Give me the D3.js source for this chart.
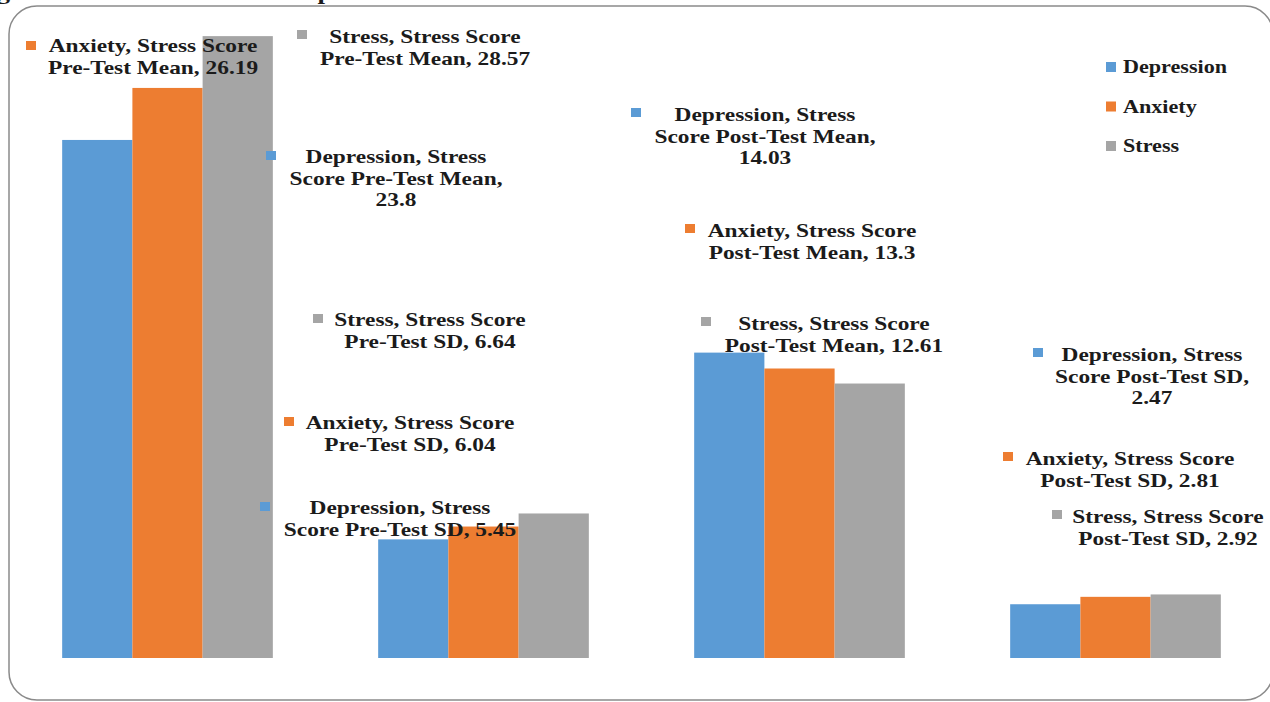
<!DOCTYPE html>
<html>
<head>
<meta charset="utf-8">
<script src="https://cdn.jsdelivr.net/npm/d3@7"></script>
<style>
  html, body { margin: 0; padding: 0; background: #ffffff; }
  svg { display: block; }
  text { font-family: "Liberation Serif", "Times New Roman", serif; font-weight: bold; fill: #1b1b1b; }
</style>
</head>
<body>
<svg id="chart" width="1270" height="702"></svg>
<script>
// Stress score statistics by measure (categories) and scale (series)
const categories = [
  "Stress Score Pre-Test Mean",
  "Stress Score Pre-Test SD",
  "Stress Score Post-Test Mean",
  "Stress Score Post-Test SD"
];
const seriesNames = ["Depression", "Anxiety", "Stress"];
const depression = [23.8, 5.45, 14.03, 2.47];
const anxiety    = [26.19, 6.04, 13.3, 2.81];
const stress     = [28.57, 6.64, 12.61, 2.92];
const yDomain = [0, 30];
const titleText = "Figure 2: Distribution of Comparison of Mean Stress Score.";

const colors = { Depression: "#5B9BD5", Anxiety: "#ED7D31", Stress: "#A5A5A5" };
const seriesValues = { Depression: depression, Anxiety: anxiety, Stress: stress };

// Hand-placed data label boxes: text centre x, first baseline y, marker corner,
// and how many words go on each line
const labelLayout = {
  "Anxiety|0":    { cx: 153, y: 52,  mx: 26,   my: 41,  words: [3, 4] },
  "Stress|0":     { cx: 425, y: 43,  mx: 297,  my: 30,  words: [3, 4] },
  "Depression|0": { cx: 396, y: 163, mx: 266,  my: 151, words: [2, 3, 1] },
  "Stress|1":     { cx: 430, y: 326, mx: 313,  my: 314, words: [3, 3] },
  "Anxiety|1":    { cx: 410, y: 429, mx: 284,  my: 417, words: [3, 3] },
  "Depression|1": { cx: 400, y: 514, mx: 260,  my: 502, words: [2, 4] },
  "Depression|2": { cx: 765, y: 121, mx: 631,  my: 108, words: [2, 3, 1] },
  "Anxiety|2":    { cx: 812, y: 237, mx: 685,  my: 224, words: [3, 3] },
  "Stress|2":     { cx: 834, y: 330, mx: 701,  my: 317, words: [3, 3] },
  "Depression|3": { cx: 1152, y: 361, mx: 1033, my: 348, words: [2, 3, 1] },
  "Anxiety|3":    { cx: 1130, y: 465, mx: 1003, my: 452, words: [3, 3] },
  "Stress|3":     { cx: 1168, y: 523, mx: 1052, my: 510, words: [3, 3] }
};

const svg = d3.select("#chart");
const stretch = 1.23;   // wide serif rendering of the chart text
const fontSize = 19;
const lineH = 21.5;

// title, mostly above the visible area
svg.append("text")
  .attr("transform", `translate(660,-1) scale(${stretch},1)`)
  .attr("text-anchor", "end")
  .style("font-size", "22px")
  .text(titleText);

// chart area frame
svg.append("rect")
  .attr("x", 9).attr("y", 6)
  .attr("width", 1264).attr("height", 694)
  .attr("rx", 28).attr("ry", 28)
  .attr("fill", "#ffffff")
  .attr("stroke", "#8a8a8a")
  .attr("stroke-width", 1.5);

// scales
const y = d3.scaleLinear().domain(yDomain).range([658, 5]);
const x0 = d3.scaleBand().domain(categories).range([9.5, 1273.5]).padding(0);
const step = x0.bandwidth();
const barW = step / 4.5;            // gap width 150% of a bar
const x1 = d3.scaleBand().domain(seriesNames)
  .range([barW * 0.75, step - barW * 0.75]).padding(0);

const rows = [];
categories.forEach((c, i) => {
  seriesNames.forEach(s => rows.push({ cat: c, ci: i, series: s, value: seriesValues[s][i] }));
});

// bars
svg.append("g").selectAll("rect")
  .data(rows)
  .join("rect")
  .attr("x", d => x0(d.cat) + x1(d.series))
  .attr("y", d => y(d.value))
  .attr("width", x1.bandwidth())
  .attr("height", d => y(0) - y(d.value))
  .attr("fill", d => colors[d.series]);

// split "Series, Category, value" into lines with the given word counts
function labelLines(d, counts) {
  const words = `${d.series}, ${d.cat}, ${d.value}`.split(" ");
  const lines = [];
  let k = 0;
  counts.forEach(n => { lines.push(words.slice(k, k + n).join(" ")); k += n; });
  if (k < words.length) lines[lines.length - 1] += " " + words.slice(k).join(" ");
  return lines;
}

const labels = svg.append("g");
rows.forEach(d => {
  const L = labelLayout[`${d.series}|${d.ci}`];
  const g = labels.append("g");
  g.append("rect")
    .attr("x", L.mx).attr("y", L.my)
    .attr("width", 10).attr("height", 9)
    .attr("fill", colors[d.series]);
  labelLines(d, L.words).forEach((ln, k) => {
    g.append("text")
      .attr("transform", `translate(${L.cx},${L.y + k * lineH}) scale(${stretch},1)`)
      .attr("text-anchor", "middle")
      .style("font-size", fontSize + "px")
      .text(ln);
  });
});

// legend
const legend = svg.append("g");
seriesNames.forEach((s, i) => {
  const ly = 62 + i * 39.5;
  legend.append("rect")
    .attr("x", 1106).attr("y", ly)
    .attr("width", 10).attr("height", 10)
    .attr("fill", colors[s]);
  legend.append("text")
    .attr("transform", `translate(1123,${ly + 11}) scale(${stretch},1)`)
    .style("font-size", "18px")
    .text(s);
});
</script>
</body>
</html>
